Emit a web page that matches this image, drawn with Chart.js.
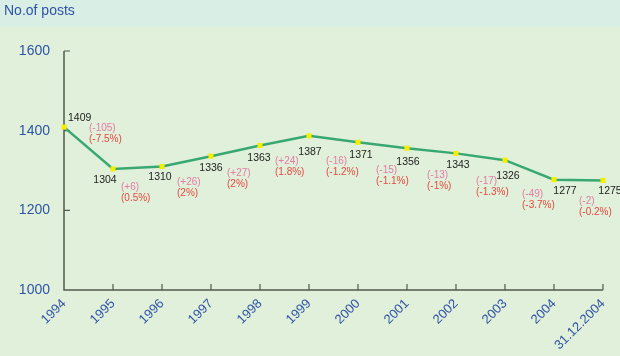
<!DOCTYPE html>
<html>
<head>
<meta charset="utf-8">
<style>
  html, body { margin: 0; padding: 0; background: #e1f0da; }
  canvas { display: block; }
</style>
<script src="https://cdn.jsdelivr.net/npm/chart.js@4/dist/chart.umd.min.js"></script>
</head>
<body>
<canvas id="c" width="620" height="356"></canvas>
<script>
// ---- data ----
const categories = ['1994','1995','1996','1997','1998','1999','2000','2001','2002','2003','2004','31.12.2004'];
const posts = [1409,1304,1310,1336,1363,1387,1371,1356,1343,1326,1277,1275];
const yTicks = [1000,1200,1400,1600];
const changeLabels = ['(-105)','(+6)','(+26)','(+27)','(+24)','(-16)','(-15)','(-13)','(-17)','(-49)','(-2)'];
const pctLabels = ['(-7.5%)','(0.5%)','(2%)','(2%)','(1.8%)','(-1.2%)','(-1.1%)','(-1%)','(-1.3%)','(-3.7%)','(-0.2%)'];
const yTitle = 'No.of posts';

// ---- layout (label offsets in px from points) ----
const valDx = [4,-8,-2,0,-1,1,3,1,2,3,11,7];
const valDy = [-9,11,11,12,13,16,13,14,12,16,11,11];
const chgDx = [25,8,15,16,15,17,18,20,20,17,25];
const chgDy = [1,18,16,17,16,25,28,27,28,34,22];

const FONT = "'Liberation Sans', Arial, Helvetica, sans-serif";
const BLUE = '#2f53a6';
const AXIS = '#505a50';

const decor = {
  id: 'decor',
  beforeDraw(chart) {
    const ctx = chart.ctx;
    ctx.save();
    ctx.fillStyle = '#e1f0da';
    ctx.fillRect(0, 0, chart.width, chart.height);
    ctx.fillStyle = '#d9eee5';
    ctx.fillRect(0, 0, chart.width, 27);
    ctx.fillStyle = BLUE;
    ctx.font = '14px ' + FONT;
    ctx.textBaseline = 'middle';
    ctx.textAlign = 'left';
    ctx.fillText(yTitle, 4, 11);
    ctx.restore();
  },
  beforeDatasetsDraw(chart) {
    const ctx = chart.ctx;
    const x = chart.scales.x, y = chart.scales.y;
    const left = x.getPixelForValue(0);
    const bottom = y.getPixelForValue(1000);
    const top = y.getPixelForValue(1600);
    const right = x.getPixelForValue(categories.length - 1);
    ctx.save();
    ctx.strokeStyle = AXIS;
    ctx.lineWidth = 1.5;
    ctx.beginPath();
    ctx.moveTo(left, top); ctx.lineTo(left, bottom); ctx.lineTo(right, bottom);
    ctx.stroke();
    ctx.lineWidth = 1.2;
    ctx.beginPath();
    yTicks.forEach(v => {
      if (v === 1000) return;
      const py = y.getPixelForValue(v);
      ctx.moveTo(left, py); ctx.lineTo(left + 6, py);
    });
    categories.forEach((c, i) => {
      if (i === 0) return;
      const px = x.getPixelForValue(i);
      ctx.moveTo(px, bottom); ctx.lineTo(px, bottom - 6);
    });
    ctx.stroke();
    ctx.restore();
  },
  afterDatasetsDraw(chart) {
    const ctx = chart.ctx;
    const meta = chart.getDatasetMeta(0);
    ctx.save();
    ctx.font = '10.5px ' + FONT;
    ctx.textBaseline = 'middle';
    meta.data.forEach((pt, i) => {
      ctx.fillStyle = '#222222';
      ctx.textAlign = i === 0 ? 'left' : 'center';
      ctx.fillText(String(posts[i]), pt.x + valDx[i], pt.y + valDy[i]);
    });
    ctx.textAlign = 'left';
    ctx.font = '10px ' + FONT;
    changeLabels.forEach((t, i) => {
      const p = meta.data[i];
      const lx = p.x + chgDx[i], ly = p.y + chgDy[i];
      ctx.fillStyle = '#e47aa6';
      ctx.fillText(t, lx, ly);
      ctx.fillStyle = '#e8483f';
      ctx.fillText(pctLabels[i], lx, ly + 11);
    });
    ctx.restore();
  }
};

new Chart(document.getElementById('c'), {
  type: 'line',
  data: {
    labels: categories,
    datasets: [{
      data: posts,
      borderColor: '#38a872',
      borderWidth: 2.5,
      tension: 0,
      pointStyle: 'rect',
      pointRadius: 3.6,
      pointHoverRadius: 3.6,
      pointBackgroundColor: '#f4ef00',
      pointBorderWidth: 0,
      clip: false
    }]
  },
  options: {
    responsive: false,
    animation: false,
    events: [],
    layout: { padding: { top: 51, right: 17, left: 0, bottom: 0 } },
    plugins: { legend: { display: false }, tooltip: { enabled: false }, title: { display: false } },
    scales: {
      x: {
        type: 'category',
        offset: false,
        grid: { display: false, drawTicks: false },
        border: { display: false },
        ticks: {
          color: BLUE,
          font: { family: FONT, size: 13 },
          minRotation: 45, maxRotation: 45,
          autoSkip: false,
          padding: 6
        },
        afterFit(s) { s.height = 66; }
      },
      y: {
        min: 1000, max: 1600,
        grid: { display: false, drawTicks: false },
        border: { display: false },
        afterBuildTicks(s) { s.ticks = yTicks.map(v => ({ value: v })); },
        ticks: {
          color: BLUE,
          font: { family: FONT, size: 14 },
          padding: 14,
          callback: v => String(v)
        },
        afterFit(s) { s.width = 64; }
      }
    }
  },
  plugins: [decor]
});
</script>
</body>
</html>
